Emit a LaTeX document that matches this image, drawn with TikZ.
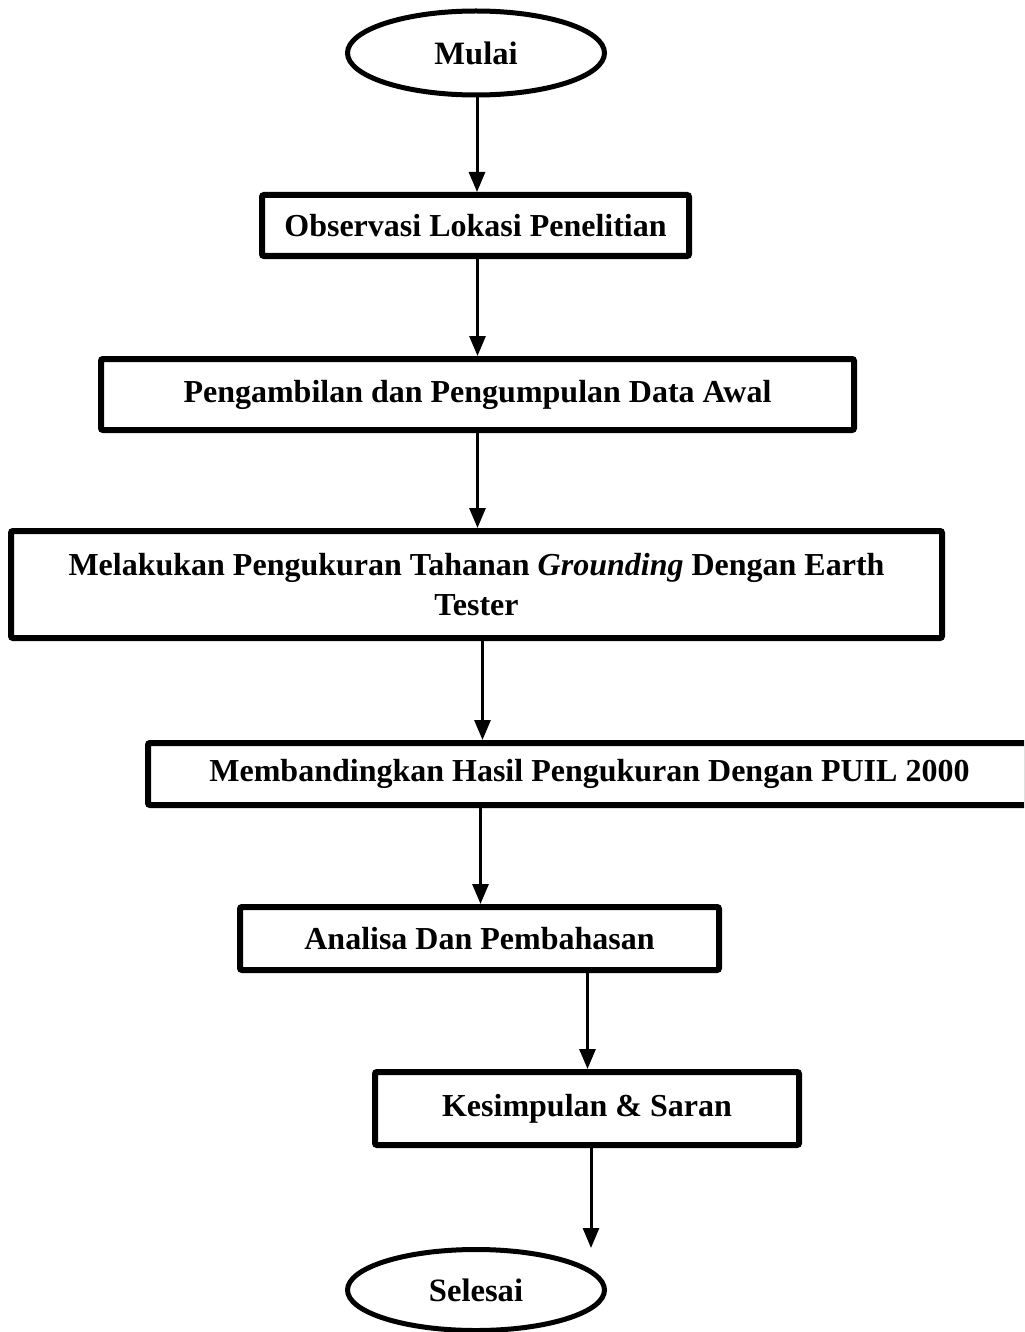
\documentclass[tikz,border=0pt]{standalone}
\usepackage{fontspec}
\setmainfont{Liberation Serif}
\usetikzlibrary{shapes.geometric, positioning, arrows.meta}
\tikzset{
  startstop/.style = {
    ellipse, draw, line width=2.5pt, inner sep=0pt,
    minimum width=128.5pt, minimum height=42pt,
    text centered, font=\fontsize{16.3}{20}\selectfont\bfseries,
  },
  process/.style = {
    rectangle, draw, line width=3pt, inner sep=0pt,
    text centered, align=center, rounded corners=1pt,
    font=\fontsize{16}{20}\selectfont\bfseries,
  },
  arrow/.style = {line width=1.5pt, -{Triangle[width=8pt,length=10pt]}},
}

\begin{document}
\begin{tikzpicture}[x=0.5pt, y=-0.5pt]
    \useasboundingbox (0,0) rectangle (1024,1332);
    \clip (0,0) rectangle (1024,1332);
    % --- Nodes ---
    \node[startstop] (start) at (476,53) {Mulai};
    \node[process, minimum width=213.5pt, minimum height=30.5pt] (observasi) at (475.5,225.5) {Observasi Lokasi Penelitian};
    \node[process, minimum width=376.5pt, minimum height=35.5pt] (data) at (477.5,394.5) {Pengambilan dan Pengumpulan Data Awal};
    \node[process, minimum width=465.5pt, minimum height=53.5pt] (ukur) at (476.5,584.5) {Melakukan Pengukuran Tahanan \textit{Grounding} Dengan Earth\\Tester};
    \node[process, minimum width=439.5pt, minimum height=31pt] (banding) at (587.5,774) {\hspace*{2pt}Membandingkan Hasil Pengukuran Dengan PUIL 2000};
    \node[process, minimum width=239.5pt, minimum height=31.5pt] (analisa) at (479.5,938.5) {Analisa Dan Pembahasan};
    \node[process, minimum width=212pt, minimum height=36.5pt] (simpul) at (587,1108.5) {Kesimpulan \& Saran};
    \node[startstop, minimum height=40.5pt] (stop) at (476,1290) {Selesai};
    \coordinate (stoptip) at (591,1248);

    % --- Arrows ---
    \draw[arrow] ([xshift=0.5pt]start.south) -- ([xshift=0.5pt]start.south |- observasi.north);
    \draw[arrow] ([xshift=1pt]observasi.south) -- ([xshift=1pt]observasi.south |- data.north);
    \draw[arrow] (data.south) -- (data.south |- ukur.north);
    \draw[arrow] ([xshift=3pt]ukur.south) -- ([xshift=3pt]ukur.south |- banding.north);
    \draw[arrow] ([xshift=0.5pt]analisa.north |- banding.south) -- ([xshift=0.5pt]analisa.north);
    \draw[arrow] ([xshift=54pt]analisa.south) -- ([xshift=54pt]analisa.south |- simpul.north);
    \draw[arrow] ([xshift=2pt]simpul.south) -- (stoptip);
  \end{tikzpicture}
\end{document}
